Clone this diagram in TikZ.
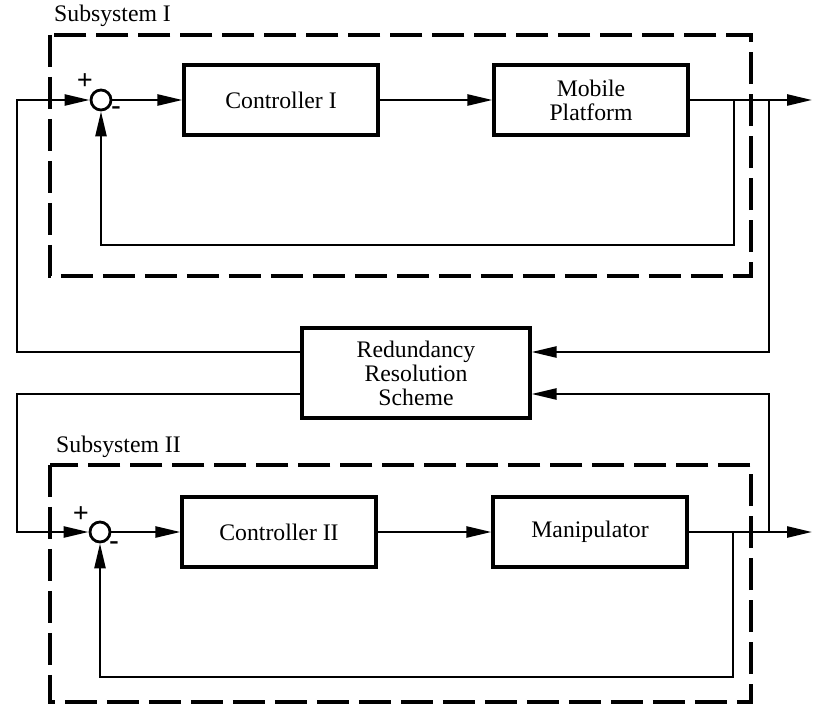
\documentclass[tikz,border=0pt]{standalone}
\usepackage{fontspec}
\setmainfont{Liberation Serif}
\newfontfamily\timesfont{Liberation Serif}
\usetikzlibrary{arrows.meta}

\begin{document}
\begin{tikzpicture}[
    x=0.02cm, y=-0.02cm,
    font=\timesfont,
    block/.style={rectangle, draw, line width=1.8pt, minimum width=3.88cm, minimum height=1.4cm, align=center, font=\timesfont\fontsize{13.5}{13.7}\selectfont},
    sum/.style={circle, draw, line width=1.6pt, minimum size=0.4cm, inner sep=0pt},
    arrow/.style={-{Triangle[length=0.5cm, width=0.22cm]}, line width=1.4pt},
    frame/.style={line width=2pt, dash pattern=on 0.64cm off 0.2cm},
    tag/.style={font=\timesfont\fontsize{13.5}{13.7}\selectfont, anchor=west},
    sign/.style={font=\timesfont\bfseries\fontsize{16}{16}\selectfont, inner sep=0pt}
]
    \useasboundingbox (0,0) rectangle (813,709);

    % Subsysteme
    \draw[frame] (50,35) rectangle (751,276);
    \draw[frame] (50,465) rectangle (751,702);
    \node[tag] (subA) at (48,16) {Subsystem I};
    \node[tag] (subB) at (50,447) {Subsystem II};

    % Bloecke
    \node[sum] (sumA) at (101,100) {};
    \node[block] (ctrlA) at (281,100) {Controller I};
    \node[block] (plat) at (591,100) {Mobile\\Platform};
    \node[block, minimum width=4.56cm, minimum height=1.8cm] (rrs) at (416,373) {Redundancy\\Resolution\\Scheme};
    \node[sum] (sumB) at (100,532) {};
    \node[block] (ctrlB) at (279,532) {Controller II};
    \node[block] (manip) at (590,532) {Manipulator};

    % Vorzeichen
    \node[sign] (plusA) at (85,82) {+};
    \node[sign] (minusA) at (116,111) {-};
    \node[sign] (plusB) at (81,515) {+};
    \node[sign] (minusB) at (114,546) {-};

    % Abzweige
    \coordinate (outA) at (812,100);
    \coordinate (outB) at (812,532);
    \coordinate (fbA) at (734,100);
    \coordinate (fbB) at (733,532);
    \coordinate (tapA) at (769,100);
    \coordinate (tapB) at (769,532);

    % Subsystem I
    \draw[arrow] (sumA) -- (ctrlA);
    \draw[arrow] (ctrlA) -- (plat);
    \draw[arrow] (plat) -- (outA);
    \draw[arrow] (fbA) -- (734,245) -| (sumA.south);

    % Subsystem II
    \draw[arrow] (sumB) -- (ctrlB);
    \draw[arrow] (ctrlB) -- (manip);
    \draw[arrow] (manip) -- (outB);
    \draw[arrow] (fbB) -- (733,677) -| (sumB.south);

    % Redundanzaufloesung
    \draw[arrow] (tapA) |- ([yshift=0.42cm]rrs.east);
    \draw[arrow] (tapB) |- ([yshift=-0.42cm]rrs.east);
    \draw[arrow] ([yshift=0.42cm]rrs.west) -| (17,100) -- (sumA.west);
    \draw[arrow] ([yshift=-0.42cm]rrs.west) -| (17,532) -- (sumB.west);

\end{tikzpicture}
\end{document}
